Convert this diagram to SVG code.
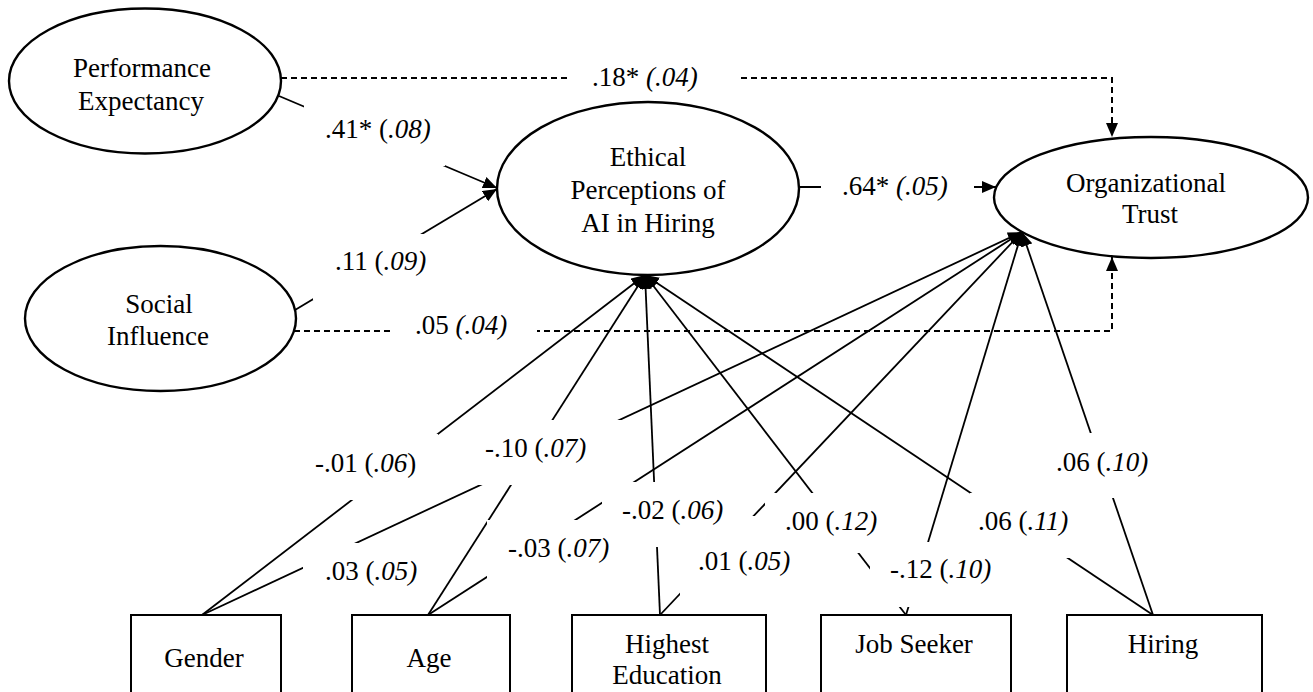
<svg xmlns="http://www.w3.org/2000/svg" width="1313" height="692" viewBox="0 0 1313 692">
<style>
  .node { fill: #fff; stroke: #000; stroke-width: 2.4; }
  .box { fill: #fff; stroke: #000; stroke-width: 2; }
  .t { font-family: "Liberation Serif", "Times New Roman", serif; font-size: 27px; fill: #000; }
  .mid { text-anchor: middle; }
  .i { font-style: italic; }
  .ln { stroke: #000; stroke-width: 1.8; fill: none; marker-end: url(#arr); }
  .dash { stroke: #000; stroke-width: 2; fill: none; stroke-dasharray: 6 4; marker-end: url(#arr); }
  .bg { fill: #fff; stroke: none; }
</style>
<defs>
  <marker id="arr" viewBox="0 0 14 12" refX="14" refY="6" markerWidth="14" markerHeight="12" markerUnits="userSpaceOnUse" orient="auto">
    <path d="M0,0 L14,6 L0,12 z" fill="#000"/>
  </marker>
</defs>
<rect width="1313" height="692" fill="#fff"/>

<g id="connectors">
  <path class="dash" d="M281,78 H1112 V137"/>
  <path class="dash" d="M294,331 H1112 V257"/>
  <line class="ln" x1="279" y1="96" x2="497" y2="188"/>
  <line class="ln" x1="295" y1="310" x2="497" y2="189"/>
  <line class="ln" x1="799" y1="187" x2="996" y2="187"/>
  <line class="ln" x1="202" y1="615" x2="645" y2="275"/>
  <line class="ln" x1="202" y1="615" x2="1022" y2="232"/>
  <line class="ln" x1="428" y1="615" x2="645" y2="275"/>
  <line class="ln" x1="428" y1="615" x2="1022" y2="232"/>
  <line class="ln" x1="660" y1="615" x2="645" y2="275"/>
  <line class="ln" x1="660" y1="615" x2="1022" y2="232"/>
  <line class="ln" x1="906" y1="615" x2="645" y2="275"/>
  <line class="ln" x1="906" y1="615" x2="1022" y2="232"/>
  <line class="ln" x1="1153" y1="615" x2="645" y2="275"/>
  <line class="ln" x1="1153" y1="615" x2="1022" y2="232"/>
  <g id="label-backgrounds">
    <rect class="bg" x="570" y="62" width="168" height="33"/>
    <rect class="bg" x="304" y="100" width="141" height="66"/>
    <rect class="bg" x="313" y="234" width="117" height="66"/>
    <rect class="bg" x="393" y="318" width="144" height="28"/>
    <rect class="bg" x="821" y="170" width="153" height="35"/>
    <rect class="bg" x="310" y="434" width="128" height="66"/>
    <rect class="bg" x="303" y="543" width="117" height="52"/>
    <rect class="bg" x="470" y="420" width="155" height="65"/>
    <rect class="bg" x="487" y="520" width="128" height="70"/>
    <rect class="bg" x="602" y="482" width="128" height="65"/>
    <rect class="bg" x="680" y="516" width="120" height="84"/>
    <rect class="bg" x="765" y="493" width="120" height="60"/>
    <rect class="bg" x="870" y="542" width="130" height="65"/>
    <rect class="bg" x="970" y="493" width="108" height="65"/>
    <rect class="bg" x="1050" y="433" width="100" height="65"/>
  </g>
  <g id="labels">
    <text class="t" x="592" y="86">.18* <tspan class="i">(.04)</tspan></text>
    <text class="t" x="325" y="138">.41* (<tspan class="i">.08)</tspan></text>
    <text class="t" x="335" y="270">.11 (<tspan class="i">.09)</tspan></text>
    <text class="t" x="415" y="334">.05 <tspan class="i">(.04)</tspan></text>
    <text class="t" x="842" y="195">.64* <tspan class="i">(.05)</tspan></text>
    <text class="t" x="315" y="472">-.01 (<tspan class="i">.06</tspan>)</text>
    <text class="t" x="325" y="580">.03 (<tspan class="i">.05)</tspan></text>
    <text class="t" x="485" y="457">-.10 (<tspan class="i">.07)</tspan></text>
    <text class="t" x="508" y="557">-.03 (<tspan class="i">.07)</tspan></text>
    <text class="t" x="622" y="519">-.02 (<tspan class="i">.06)</tspan></text>
    <text class="t" x="698" y="570">.01 (<tspan class="i">.05)</tspan></text>
    <text class="t" x="785" y="530">.00 (<tspan class="i">.12)</tspan></text>
    <text class="t" x="890" y="578">-.12 (<tspan class="i">.10)</tspan></text>
    <text class="t" x="978" y="530">.06 (<tspan class="i">.11)</tspan></text>
    <text class="t" x="1056" y="471">.06 (<tspan class="i">.10)</tspan></text>
  </g>
</g>

<g id="node-performance">
  <ellipse class="node" cx="145" cy="81" rx="136" ry="72.5"/>
  <text class="t mid" x="142" y="77">Performance</text>
  <text class="t mid" x="141" y="110">Expectancy</text>
</g>
<g id="node-social">
  <ellipse class="node" cx="160.5" cy="318.5" rx="135.5" ry="72.5"/>
  <text class="t mid" x="159" y="313">Social</text>
  <text class="t mid" x="158" y="345">Influence</text>
</g>
<g id="node-ethical">
  <ellipse class="node" cx="648" cy="188.5" rx="151" ry="86.5"/>
  <text class="t mid" x="648" y="166">Ethical</text>
  <text class="t mid" x="648" y="199">Perceptions of</text>
  <text class="t mid" x="648" y="232">AI in Hiring</text>
</g>
<g id="node-trust">
  <ellipse class="node" cx="1151" cy="197.5" rx="157" ry="60.5"/>
  <text class="t mid" x="1146" y="192">Organizational</text>
  <text class="t mid" x="1150" y="223">Trust</text>
</g>
<g id="node-gender">
  <rect class="box" x="131" y="615" width="150" height="90"/>
  <text class="t mid" x="204" y="667">Gender</text>
</g>
<g id="node-age">
  <rect class="box" x="352" y="615" width="158" height="90"/>
  <text class="t mid" x="429" y="667">Age</text>
</g>
<g id="node-education">
  <rect class="box" x="572" y="615" width="194" height="90"/>
  <text class="t mid" x="667" y="653">Highest</text>
  <text class="t mid" x="667" y="684">Education</text>
</g>
<g id="node-jobseeker">
  <rect class="box" x="821" y="615" width="190" height="90"/>
  <text class="t mid" x="914" y="653">Job Seeker</text>
</g>
<g id="node-hiring">
  <rect class="box" x="1067" y="615" width="195" height="90"/>
  <text class="t mid" x="1163" y="653">Hiring</text>
</g>
</svg>
